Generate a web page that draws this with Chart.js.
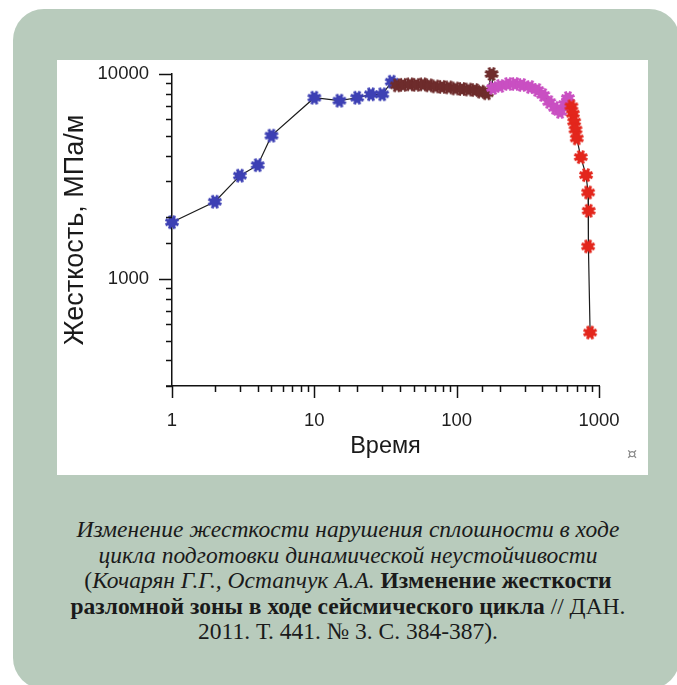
<!DOCTYPE html>
<html>
<head>
<meta charset="utf-8">
<script src="https://cdn.jsdelivr.net/npm/chart.js@4.4.1/dist/chart.umd.min.js"></script>
<style>
  html, body { margin: 0; padding: 0; background: #fff; width: 677px; height: 685px; overflow: hidden; }
  #panel { position: absolute; left: 13px; top: 9px; width: 667px; height: 680px; border-radius: 31px; background: #b8cbbc; }
  #plotBox { position: absolute; left: 57px; top: 60px; width: 591px; height: 415px; background: #fff; }
  #mark { position: absolute; left: 627px; top: 444px; font: 16px "DejaVu Sans"; color: #8a8a8a; }
  #caption { position: absolute; left: 16px; top: 517px; width: 664px; text-align: center;
    font-family: "Liberation Serif", serif; font-size: 23.5px; line-height: 25.5px; color: #1a1a1a; }
  #caption i { font-style: italic; }
  #caption b { font-weight: bold; }
</style>
</head>
<body>
<div id="panel"></div>
<div id="plotBox"><canvas id="stiffChart" width="591" height="415"></canvas></div>
<div id="mark">¤</div>
<div id="caption">
  <i>Изменение жесткости нарушения сплошности в ходе</i><br>
  <i>цикла подготовки динамической неустойчивости</i><br>
  (<i>Кочарян Г.Г., Остапчук А.А.</i> <b>Изменение жесткости</b><br>
  <b>разломной зоны в ходе сейсмического цикла</b> // ДАН.<br>
  2011. Т. 441. № 3. С. 384-387).
</div>
<script>
// ===== DATA (time, stiffness MPa/m) =====
const blueT = [1, 2, 3, 4, 5, 10, 15, 20, 25, 30, 35];
const blueK = [1890, 2380, 3190, 3590, 5000, 7660, 7410, 7660, 7960, 7960, 9170];

const brownT = [38, 42, 47, 52, 58, 64, 71, 79, 88, 98, 109, 121, 134, 148, 163, 176];
const brownK = [8800, 8850, 8900, 8850, 8900, 8800, 8700, 8650, 8600, 8500, 8450, 8400, 8350, 8200, 8050, 10000];

const pinkT = [180, 202, 230, 257, 288, 328, 368, 405, 447, 491, 533, 578, 605];
const pinkK = [8550, 8740, 8940, 8940, 8840, 8640, 8360, 7900, 7300, 6830, 6530, 7140, 7640];

const redT = [640, 655, 669, 684, 698, 745, 811, 838, 847, 838, 866];
const redK = [6950, 6400, 5850, 5350, 4850, 3930, 3210, 2640, 2150, 1440, 547];

const xLabels = [1, 10, 100, 1000];
const yLabels = [1000, 10000];

// ===== HELPERS =====
const toPoints = (t, k) => t.map((v, i) => ({ x: v, y: k[i] }));
const isDecade = v => Math.abs(Math.log10(v) - Math.round(Math.log10(v))) < 1e-9;

// spiky "burst" marker drawn once per colour
function burst(color, r) {
    const c = document.createElement("canvas");
    const s = Math.ceil(r * 2 + 4);
    c.width = c.height = s;
    const g = c.getContext("2d");
    const m = s / 2;
    g.strokeStyle = color;
    g.fillStyle = color;
    g.lineWidth = 3;
    g.lineCap = "butt";
    for (let i = 0; i < 8; i++) {
        const a = i * Math.PI / 4 + Math.PI / 8;
        g.beginPath();
        g.moveTo(m, m);
        g.lineTo(m + Math.cos(a) * r, m + Math.sin(a) * r);
        g.stroke();
    }
    g.beginPath();
    g.arc(m, m, r * 0.7, 0, Math.PI * 2);
    g.fill();
    return c;
}

// tick marks: long at decades, short in between
const tickMarks = {
    id: "tickMarks",
    afterDraw(chart) {
        const { ctx, scales: { x, y } } = chart;
        ctx.save();
        ctx.strokeStyle = "#111";
        ctx.lineWidth = 1.5;
        x.ticks.forEach(t => {
            const px = Math.round(x.getPixelForValue(t.value)) + 0.5;
            const len = isDecade(t.value) ? 12 : 6;
            ctx.beginPath();
            ctx.moveTo(px, x.top);
            ctx.lineTo(px, x.top + len);
            ctx.stroke();
        });
        y.ticks.forEach(t => {
            const py = Math.round(y.getPixelForValue(t.value)) + 0.5;
            const len = isDecade(t.value) ? 13 : 6;
            ctx.beginPath();
            ctx.moveTo(y.right, py);
            ctx.lineTo(y.right - len, py);
            ctx.stroke();
        });
        // x axis line pokes a little past the y axis
        ctx.beginPath();
        ctx.moveTo(x.left - 6, x.top);
        ctx.lineTo(x.left, x.top);
        ctx.stroke();
        ctx.restore();
    }
};

Chart.defaults.font.family = "'Liberation Sans', Arial, sans-serif";
Chart.defaults.color = "#222";

const allPoints = [
    ...toPoints(blueT, blueK),
    ...toPoints(brownT, brownK),
    ...toPoints(pinkT, pinkK),
    ...toPoints(redT, redK)
];

const markerSet = (pts, color) => ({
    data: pts,
    showLine: false,
    clip: false,
    pointStyle: burst(color, 7),
    pointRadius: 7,
    pointHoverRadius: 7
});

const ctx = document.getElementById("stiffChart").getContext("2d");
const stiffChart = new Chart(ctx, {
    type: "scatter",
    data: {
        datasets: [
            markerSet(toPoints(redT, redK), "#e3261c"),
            markerSet(toPoints(pinkT, pinkK), "#c94fc2"),
            markerSet(toPoints(brownT, brownK), "#6e2c2c"),
            markerSet(toPoints(blueT, blueK), "#3d40b4"),
            {
                data: allPoints,
                showLine: true,
                clip: false,
                borderColor: "#1c1c1c",
                borderWidth: 1.2,
                pointRadius: 0,
                tension: 0
            }
        ]
    },
    options: {
        responsive: false,
        animation: false,
        layout: { padding: { top: 14, right: 49, left: 0, bottom: 0 } },
        plugins: {
            legend: { display: false },
            tooltip: { enabled: false }
        },
        scales: {
            x: {
                type: "logarithmic",
                position: "bottom",
                min: 1,
                max: 1000,
                grid: { display: false, drawTicks: false },
                border: { display: true, color: "#111", width: 1.5 },
                ticks: {
                    autoSkip: false,
                    maxRotation: 0,
                    padding: 24,
                    font: { size: 18.5 },
                    color: "#1e1e1e",
                    callback: v => (isDecade(v) && xLabels.includes(Math.round(v))) ? String(Math.round(v)) : ""
                },
                title: {
                    display: true,
                    text: "Время",
                    font: { size: 23.5 },
                    color: "#1a1a1a",
                    padding: { top: 0, bottom: 14 }
                },
                afterFit: s => {
                    s.height = 89;
                    s.paddingLeft = 0;
                    s.paddingRight = 0;
                }
            },
            y: {
                type: "logarithmic",
                position: "left",
                min: 300,
                max: 10000,
                grid: { display: false, drawTicks: false },
                border: { display: true, color: "#111", width: 1.5 },
                ticks: {
                    autoSkip: false,
                    padding: 23,
                    font: { size: 18.5 },
                    color: "#1e1e1e",
                    callback: v => (isDecade(v) && yLabels.includes(Math.round(v))) ? String(Math.round(v)) : ""
                },
                title: {
                    display: true,
                    text: "Жесткость, МПа/м",
                    font: { size: 27 },
                    color: "#1a1a1a",
                    padding: { top: 2, bottom: 0 }
                },
                afterFit: s => {
                    s.width = 115;
                    s.paddingTop = 0;
                    s.paddingBottom = 0;
                }
            }
        }
    },
    plugins: [tickMarks]
});
</script>
</body>
</html>
